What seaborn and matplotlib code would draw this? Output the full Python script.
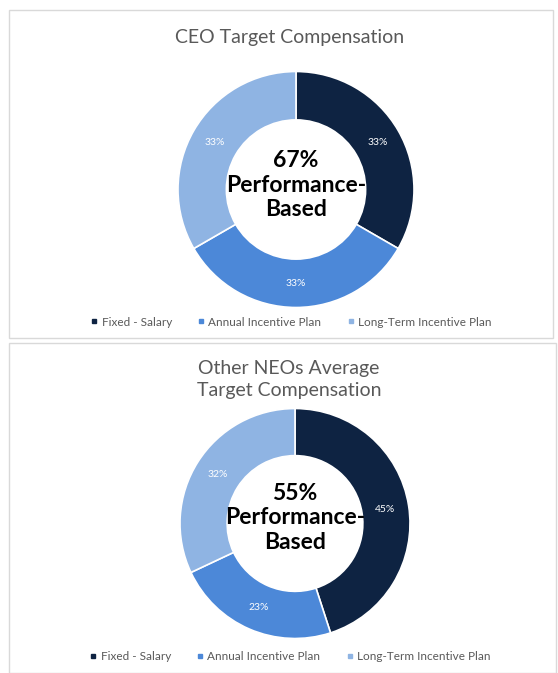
import numpy as np
import matplotlib
matplotlib.use("Agg")
import matplotlib.pyplot as plt
from matplotlib.patches import Rectangle
from matplotlib.lines import Line2D
import seaborn as sns

# data
categories = ["Fixed - Salary", "Annual Incentive Plan", "Long-Term Incentive Plan"]
ceo_values = [33, 33, 33]
neo_values = [45, 23, 32]
ceo_labels = ["33%", "33%", "33%"]
neo_labels = ["45%", "23%", "32%"]
ceo_title = "CEO Target Compensation"
neo_title = "Other NEOs Average\nTarget Compensation"
ceo_center = "67%\nPerformance-\nBased"
neo_center = "55%\nPerformance-\nBased"

sns.set_theme(style="white")
plt.rcParams['font.family'] = ['Lato', 'DejaVu Sans']
colors = sns.color_palette(["#0e2342", "#4c88d8", "#8fb4e3"])
grey = "#595959"

W, H = 558, 673
fig = plt.figure(figsize=(W / 100, H / 100), dpi=100)
fig.patch.set_facecolor("white")


def fx(x):
    return x / W


def fy(y):
    return 1 - y / H


# panel borders
for (x0, y0, x1, y1) in [(9, 10, 553, 338), (9, 343, 556, 673)]:
    fig.patches.append(Rectangle((fx(x0), fy(y1)), fx(x1 - x0), (y1 - y0) / H,
                                 transform=fig.transFigure, fill=False,
                                 edgecolor="#d9d9d9", linewidth=1.0))


def donut(cx, cy, r, values, labels, center_text, title, title_y, legend_y, text_y):
    ax = fig.add_axes([fx(cx - r), fy(cy + r), 2 * r / W, 2 * r / H])
    wedges, _ = ax.pie(values, colors=colors, startangle=90, counterclock=False,
                       radius=1, wedgeprops=dict(width=0.41, edgecolor="white", linewidth=1.2))
    # percentage labels at ring middle
    total = float(sum(values))
    start = 0.0
    for v, lab in zip(values, labels):
        mid = np.deg2rad(start + v / total * 360 / 2)
        ax.text(0.795 * np.sin(mid), 0.795 * np.cos(mid), lab, ha="center", va="center",
                color="white", fontsize=7.5)
        start += v / total * 360
    ax.set_xlim(-1, 1)
    ax.set_ylim(-1, 1)
    ax.set_aspect("equal")
    ax.axis("off")
    fig.text(fx(cx), fy(text_y), center_text, ha="center", va="center",
             fontsize=16.5, fontweight="bold", color="black", linespacing=1.22)
    fig.text(fx(cx - 6), fy(title_y), title, ha="center", va="center",
             fontsize=14, color=grey, linespacing=1.3)
    handles = [Line2D([], [], marker="s", linestyle="", markersize=3, color=c) for c in colors]
    leg = fig.legend(handles, categories, loc="center", bbox_to_anchor=(fx(cx - 6), fy(legend_y)),
                     ncol=3, frameon=False, fontsize=8.5, handletextpad=0.1,
                     columnspacing=2.0, handlelength=1.0)
    for t in leg.get_texts():
        t.set_color(grey)


donut(296, 189.5, 118, ceo_values, ceo_labels, ceo_center, ceo_title, 37, 322, 185)
donut(295, 523.5, 115, neo_values, neo_labels, neo_center, neo_title, 379.5, 657, 518)

fig.savefig("out.png", dpi=100)
